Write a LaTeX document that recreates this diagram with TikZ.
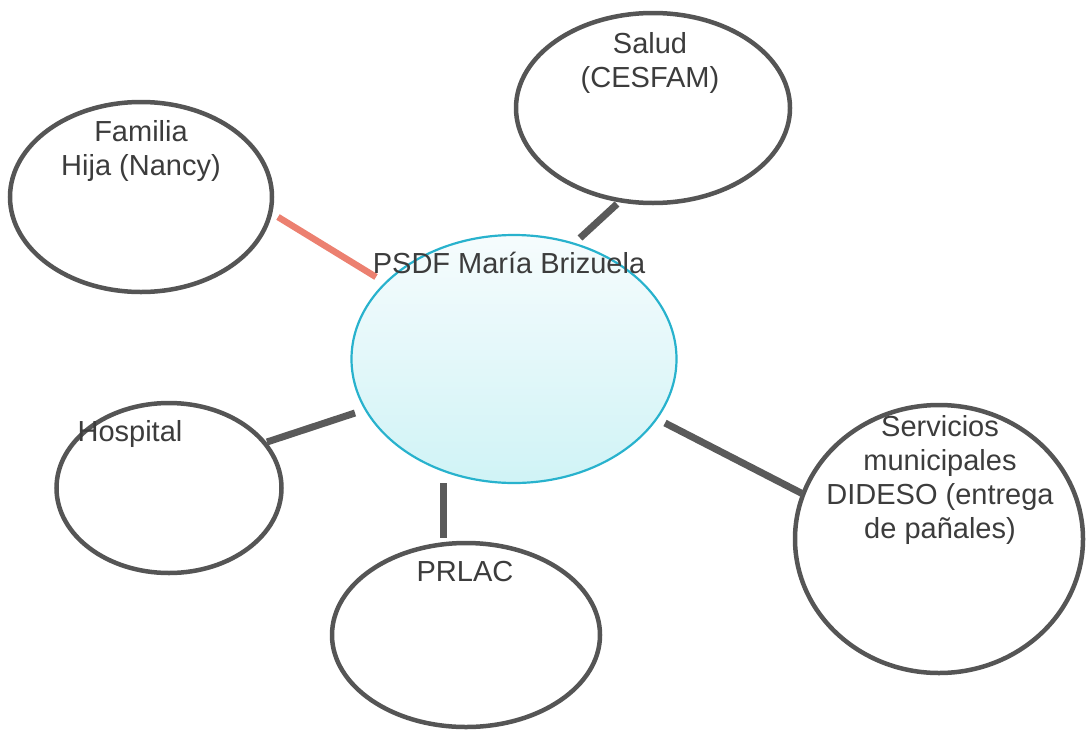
\documentclass[tikz,border=0pt]{standalone}
\usepackage{fontspec}
\setmainfont{Liberation Sans}
\usetikzlibrary{shapes.geometric}
\definecolor{txtgray}{RGB}{60,60,60}
\definecolor{ringgray}{RGB}{85,85,85}
\definecolor{linegray}{RGB}{90,90,90}
\definecolor{salmon}{RGB}{236,128,112}
\definecolor{cyanedge}{RGB}{40,178,205}
\definecolor{cyantop}{RGB}{246,252,253}
\definecolor{cyanbot}{RGB}{208,243,246}
\tikzset{
  ring/.style={draw=ringgray, line width=4.5pt, ellipse, inner sep=0pt, fill=white},
  hub/.style={draw=cyanedge, line width=2.2pt, ellipse, inner sep=0pt, top color=cyantop, bottom color=cyanbot},
  lbl/.style={text=txtgray, align=center, inner sep=0pt, font=\fontsize{29}{34}\selectfont},
  link/.style={draw=linegray, line width=7pt},
  redlink/.style={draw=salmon, line width=6.5pt},
}
\begin{document}
\begin{tikzpicture}[x=1pt,y=-1pt]
\useasboundingbox (0,0) rectangle (1086,739);
% ellipses
\node[ring, minimum width=274pt, minimum height=190pt] (salud) at (653,108) {};
\node[ring, minimum width=262pt, minimum height=190pt] (familia) at (141,197) {};
\node[ring, minimum width=225pt, minimum height=170pt] (hospital) at (169,488) {};
\node[ring, minimum width=268pt, minimum height=184pt] (prlac) at (466,635) {};
\node[ring, minimum width=288pt, minimum height=268pt] (servicios) at (939,539) {};
\node[hub, minimum width=325pt, minimum height=248pt] (psdf) at (514,359) {};
% connector end points
\coordinate (fA) at (278,217);
\coordinate (fB) at (376,277);
\coordinate (sA) at (617,204);
\coordinate (sB) at (580,238);
\coordinate (hA) at (267,442);
\coordinate (hB) at (355,413);
\coordinate (pA) at (443,483);
\coordinate (pB) at (443,538);
\coordinate (vA) at (665,423);
\coordinate (vB) at (803,494);
% connectors
\draw[redlink] (fA) -- (fB);
\draw[link] (sA) -- (sB);
\draw[link] (hA) -- (hB);
\draw[link] (pA) -- (pB);
\draw[link] (vA) -- (vB);
% labels
\node[lbl] (tsalud) at (650,63) {Salud\\(CESFAM)};
\node[lbl] (tfam) at (141,151) {Familia\\Hija (Nancy)};
\node[lbl] (tpsdf) at (509,263) {PSDF María Brizuela};
\node[lbl] (thosp) at (130,434) {Hospital};
\node[lbl] (tprlac) at (465,572) {PRLAC};
\node[lbl] (tserv) at (940,480) {Servicios\\municipales\\DIDESO (entrega\\de pañales)};
\end{tikzpicture}
\end{document}
